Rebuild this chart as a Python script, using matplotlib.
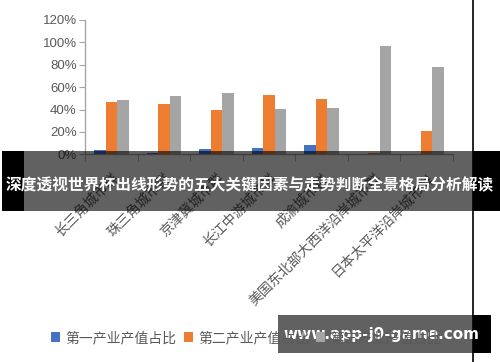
import matplotlib
matplotlib.use("Agg")
import matplotlib.pyplot as plt
import numpy as np
from matplotlib.patches import Rectangle

plt.rcParams['font.family'] = ['Noto Sans CJK SC', 'DejaVu Sans']

# --- data ---
CITIES = ["长三角城市群", "珠三角城市群", "京津冀城市群", "长江中游城市群",
          "成渝城市群", "美国东北部大西洋沿岸城市群", "日本太平洋沿岸城市群"]
SERIES = ["第一产业产值占比", "第二产业产值占比", "第三产业产值占比"]
PRIMARY = [3.5, 1.5, 4.5, 5.5, 8.0, 0.3, 0.3]
SECONDARY = [47, 45, 40, 53, 49.5, 1.5, 21]
TERTIARY = [48.5, 52.5, 55, 40.5, 41.5, 96.5, 78]
YTICKS = [0, 20, 40, 60, 80, 100, 120]

TITLE = "深度透视世界杯出线形势的五大关键因素与走势判断全景格局分析解读"
WATERMARK = "www.app-j9-game.com"

COLORS = ["#4472C4", "#ED7D31", "#A5A5A5"]
AXIS_GRAY = "#A6A6A6"
TEXT_GRAY = "#595959"
BAR_W = 0.22

W, H = 500, 362


def fx(px):
    return px / W


def fy(py):
    return 1 - py / H


fig = plt.figure(figsize=(5, 3.62), dpi=100)
ax = fig.add_axes([fx(85), fy(154.3), fx(453) - fx(85), fy(20) - fy(154.3)])

x = np.arange(len(CITIES))
for i, (name, vals, c) in enumerate(zip(SERIES, [PRIMARY, SECONDARY, TERTIARY], COLORS)):
    ax.bar(x + (i - 1) * BAR_W, vals, BAR_W, color=c, label=name, zorder=3)

ax.set_xlim(-0.5, len(CITIES) - 0.5)
ax.set_ylim(0, 120)
ax.set_yticks(YTICKS)
ax.set_yticklabels([f"{v}%" for v in YTICKS], fontsize=9.5, color=TEXT_GRAY,
                   family=['Liberation Sans Narrow', 'Liberation Sans', 'DejaVu Sans'])
ax.set_xticks(x)
ax.set_xticklabels(CITIES, rotation=45, ha="right", rotation_mode="anchor",
                   fontsize=10, color=TEXT_GRAY)
ax.set_xticks(np.arange(len(CITIES) + 1) - 0.5, minor=True)
ax.tick_params(axis="x", which="major", length=0, pad=12)
ax.tick_params(axis="x", which="minor", length=5, color=AXIS_GRAY, direction="out")
ax.tick_params(axis="y", length=4, color=AXIS_GRAY, direction="out", pad=2)

for s in ["top", "right"]:
    ax.spines[s].set_visible(False)
for s in ["left", "bottom"]:
    ax.spines[s].set_color(AXIS_GRAY)
    ax.spines[s].set_linewidth(1.0)
ax.set_facecolor("none")

fig.legend(loc="center left", bbox_to_anchor=(fx(51), fy(338)), ncol=3, frameon=False,
           fontsize=10, handlelength=0.65, handleheight=0.65, handletextpad=0.4,
           columnspacing=0.5, labelcolor=TEXT_GRAY, borderaxespad=0, borderpad=0)

# screenshot edge line
fig.add_artist(plt.Line2D([fx(473), fx(473)], [0, 1], transform=fig.transFigure,
                          color="black", lw=1.2))

# title banner overlay
fig.add_artist(Rectangle((fx(24), fy(211)), fx(473) - fx(24), fy(151) - fy(211),
                         transform=fig.transFigure, color="black", alpha=0.62, lw=0))
fig.add_artist(Rectangle((fx(2), fy(211)), fx(24) - fx(2), fy(151) - fy(211),
                         transform=fig.transFigure, color="black", lw=0))
fig.add_artist(Rectangle((fx(473), fy(211)), 1 - fx(473), fy(151) - fy(211),
                         transform=fig.transFigure, color="black", lw=0))
fig.text(0.5, fy(185), TITLE, ha="center", va="center", color="white",
         fontsize=11.3, fontweight="bold")

# watermark box
fig.add_artist(Rectangle((fx(278), fy(353)), fx(473) - fx(278), fy(315) - fy(353),
                         transform=fig.transFigure, color="black", alpha=0.62, lw=0))
fig.add_artist(Rectangle((fx(473), fy(353)), fx(491) - fx(473), fy(315) - fy(353),
                         transform=fig.transFigure, color="black", lw=0))
fig.text(fx(381), fy(334), WATERMARK, ha="center", va="center", color="white",
         fontsize=11, fontweight="bold", family="DejaVu Sans")

fig.savefig("out.png", dpi=100)
